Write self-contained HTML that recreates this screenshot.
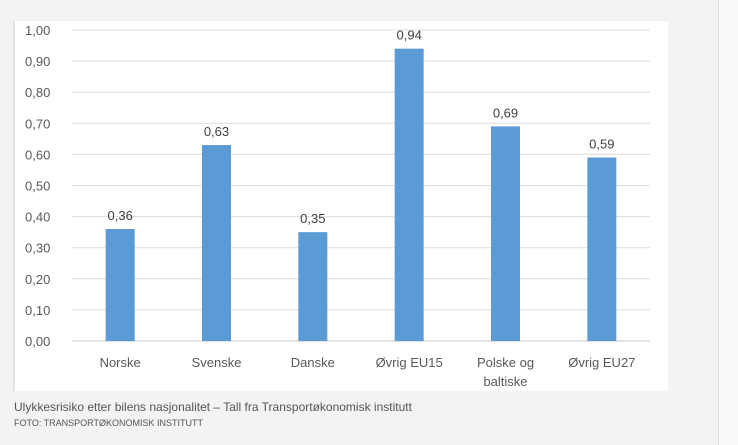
<!DOCTYPE html>
<html><head><meta charset="utf-8">
<style>
body{margin:0;width:738px;height:445px;background:#f3f3f3;font-family:"Liberation Sans",sans-serif;overflow:hidden;position:relative}
#rightpanel{position:absolute;left:718px;top:0;width:20px;height:445px;background:#fafafa;border-left:1px solid #ddd}
#cap{position:absolute;left:14px;top:400px;font-size:12px;color:#555}
#foto{position:absolute;left:14px;top:418px;font-size:9px;color:#555}
</style></head><body>
<div id="rightpanel"></div>
<svg width="738" height="445" style="position:absolute;left:0;top:0">
<rect x="14" y="21" width="654" height="370" fill="#fff"/>
<line x1="14" y1="21" x2="14" y2="391" stroke="#ccc"/>
<g id="grid"></g><g id="bars"></g>
</svg>
<div id="cap">Ulykkesrisiko etter bilens nasjonalitet – Tall fra Transportøkonomisk institutt</div>
<div id="foto">FOTO: TRANSPORTØKONOMISK INSTITUTT</div>
<script>
const categories=[["Norske"],["Svenske"],["Danske"],["Øvrig EU15"],["Polske og","baltiske"],["Øvrig EU27"]];
const values=[0.36,0.63,0.35,0.94,0.69,0.59];
const ticks=[0,0.1,0.2,0.3,0.4,0.5,0.6,0.7,0.8,0.9,1.0];
const NS="http://www.w3.org/2000/svg";
const x0=72,x1=650,yB=341,yT=30;
const y=v=>yB-(v/1)*(yB-yT);
const bw=(x1-x0)/categories.length;
const xc=i=>x0+bw*(i+0.5);
function mk(t,a,p){const e=document.createElementNS(NS,t);for(const k in a)e.setAttribute(k,a[k]);p.appendChild(e);return e;}
const g=document.getElementById('grid'),b=document.getElementById('bars');
ticks.forEach(t=>{
 const l=mk('line',{x1:x0,x2:x1,y1:y(t),y2:y(t),stroke:t===0?'#c8c8c8':'#dcdcdc','stroke-width':1},g);
 
 
 const tx=mk('text',{x:25,y:y(t)+5,'font-size':13,fill:'#595959'},g);
 tx.textContent=t.toFixed(2).replace('.',',');
 
 
});
values.forEach((v,i)=>{
 const r=mk('rect',{x:xc(i)-14.5,y:y(v),width:29,height:yB-y(v),fill:'#5b9bd5'},b);
 
 
 const vl=mk('text',{x:xc(i),y:y(v)-9,'font-size':13,fill:'#404040','text-anchor':'middle'},b);
 vl.textContent=v.toFixed(2).replace('.',',');
 
 
 categories[i].forEach((ln,j)=>{
  const c=mk('text',{x:xc(i),y:367+j*19,'font-size':13,fill:'#595959','text-anchor':'middle'},b);
  c.textContent=ln;
  
  
 });
});
</script>
</body></html>
